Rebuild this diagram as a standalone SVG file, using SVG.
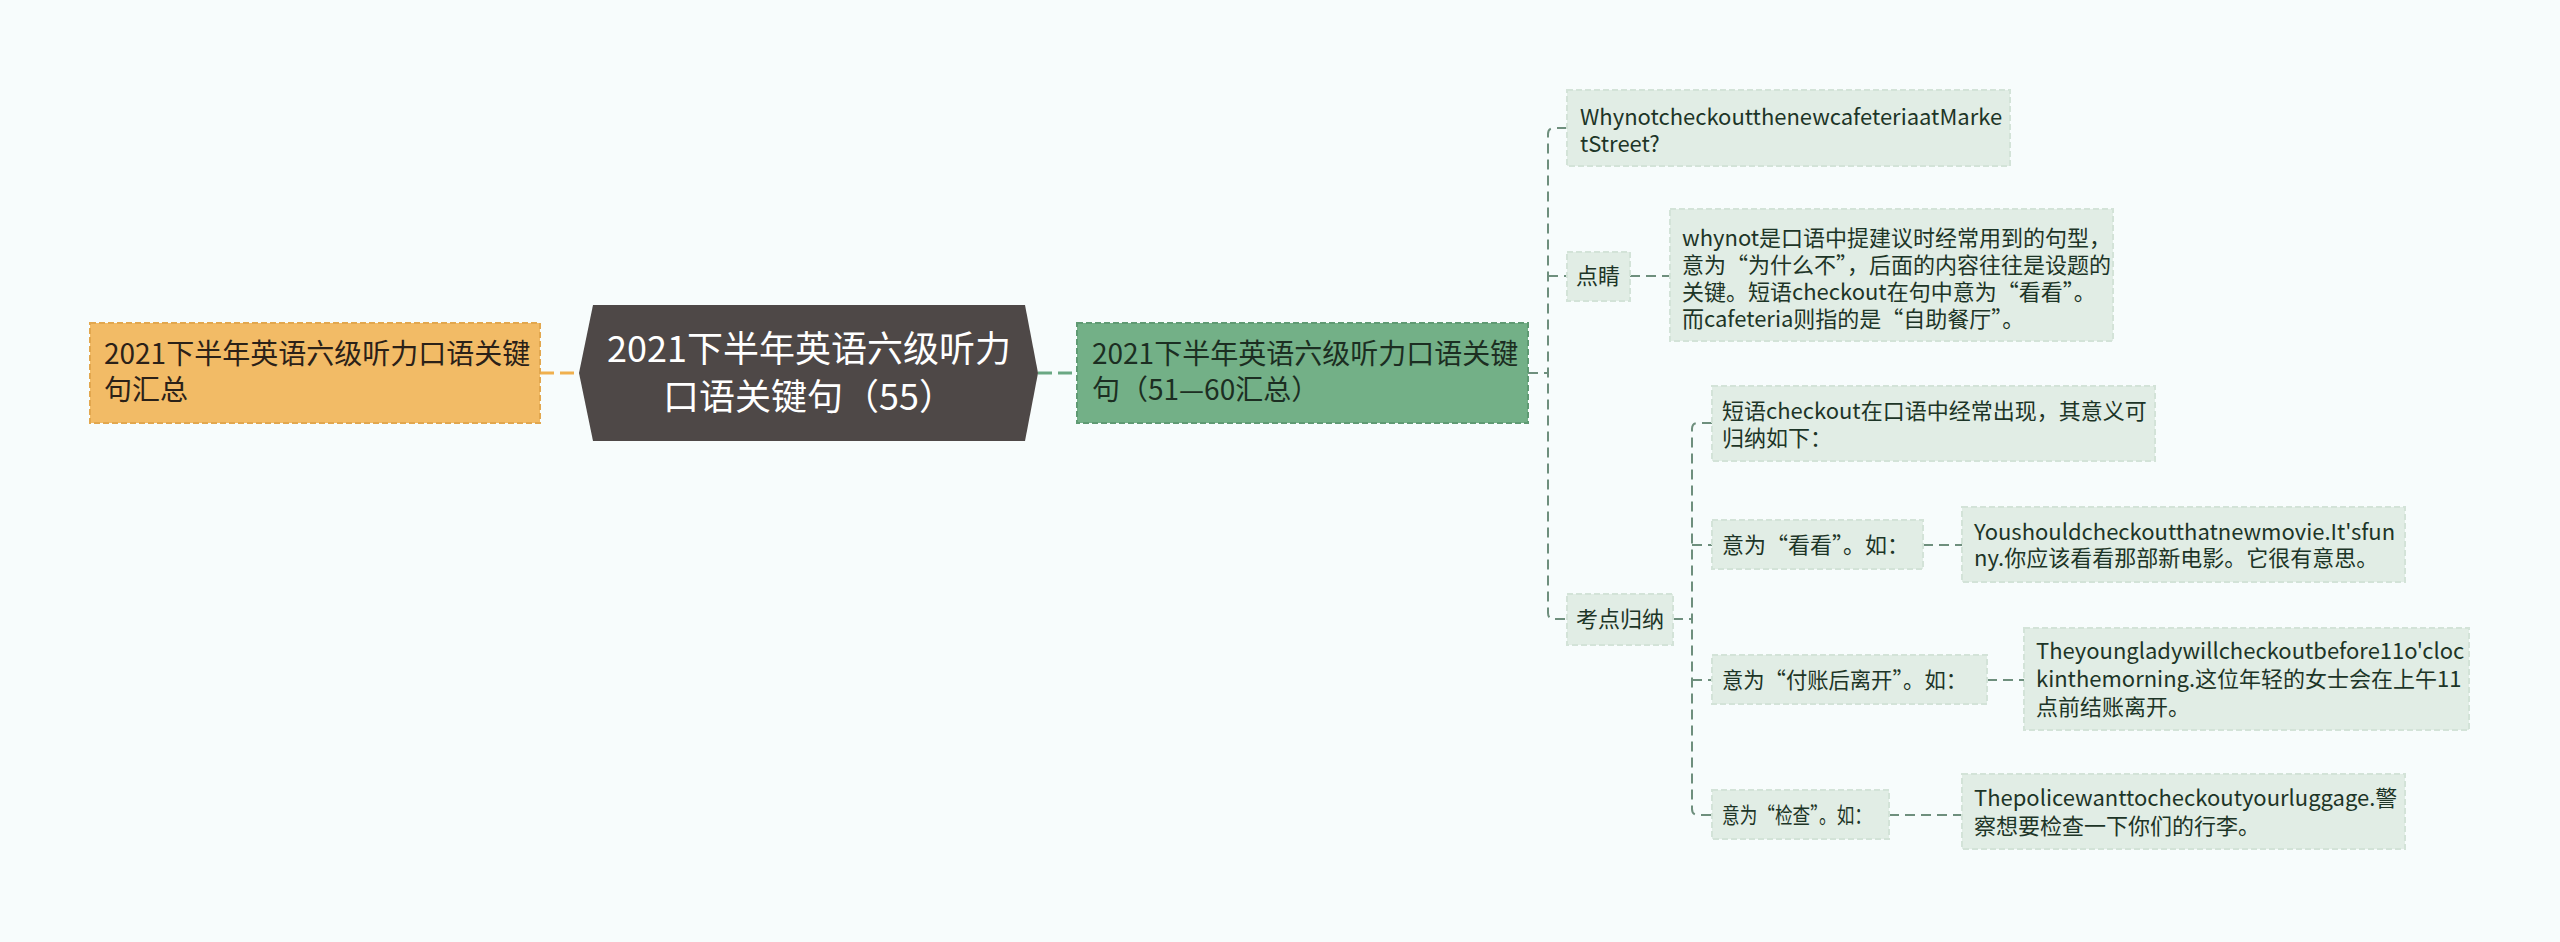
<svg xmlns="http://www.w3.org/2000/svg" width="2560" height="942" viewBox="0 0 2560 942">
<style>
text{font-family:"Noto Sans CJK SC","Noto Sans",sans-serif;}
.lt{fill:#e1ede5;stroke:#d3e3d8;stroke-width:2;stroke-dasharray:6 3;}
.lt-t{font-size:22px;fill:#1d3527;}
.c{fill:none;stroke:#6e8f7d;stroke-width:2;stroke-dasharray:10 6;}
</style>
<rect width="2560" height="942" fill="#f7fcfc"/>
<g id="connectors">
<path d="M540 373 H579" stroke="#f0b04e" stroke-width="3" fill="none" stroke-dasharray="14 6"/>
<path d="M1038 373 H1077" stroke="#6aa883" stroke-width="3" fill="none" stroke-dasharray="14 6"/>
<path class="c" d="M1528 373 H1548"/>
<path class="c" d="M1567 128 H1554 Q1548 128 1548 134 V613 Q1548 619 1554 619 H1567"/>
<path class="c" d="M1548 276 H1567"/>
<path class="c" d="M1630 276 H1670"/>
<path class="c" d="M1673 619 H1692"/>
<path class="c" d="M1712 423 H1698 Q1692 423 1692 429 V809 Q1692 815 1698 815 H1712"/>
<path class="c" d="M1692 545 H1712"/>
<path class="c" d="M1692 680 H1712"/>
<path class="c" d="M1923 545 H1962"/>
<path class="c" d="M1987 680 H2024"/>
<path class="c" d="M1889 815 H1962"/>
</g>
<g id="n-left">
<rect x="90" y="323" width="450" height="100" fill="#f2bb66" stroke="#e2a74e" stroke-width="2" stroke-dasharray="6 3"/>
<text font-size="28" fill="#2b2118"><tspan x="104" y="364">2021下半年英语六级听力口语关键</tspan><tspan x="104" y="400">句汇总</tspan></text>
</g>
<g id="n-root">
<polygon points="593,305 1025,305 1038,373 1025,441 593,441 579,373" fill="#4e4847"/>
<text font-size="36" fill="#ffffff" text-anchor="middle"><tspan x="809" y="362">2021下半年英语六级听力</tspan><tspan x="809" y="410">口语关键句（55）</tspan></text>
</g>
<g id="n-green">
<rect x="1077" y="323" width="451" height="100" fill="#73b087" stroke="#5f9a73" stroke-width="2" stroke-dasharray="6 3"/>
<text font-size="28" fill="#1c2e22"><tspan x="1092" y="364">2021下半年英语六级听力口语关键</tspan><tspan x="1092" y="400">句（51—60汇总）</tspan></text>
</g>
<g id="n-why">
<rect class="lt" x="1567" y="90" width="443" height="76"/>
<text class="lt-t"><tspan x="1580" y="125">WhynotcheckoutthenewcafeteriaatMarke</tspan><tspan x="1580" y="152">tStreet?</tspan></text>
</g>
<g id="n-dianjing">
<rect class="lt" x="1567" y="252" width="63" height="49"/>
<text class="lt-t" x="1598" y="284" text-anchor="middle">点睛</text>
</g>
<g id="n-whynot">
<rect class="lt" x="1670" y="209" width="443" height="132"/>
<text class="lt-t"><tspan x="1682" y="246">whynot是口语中提建议时经常用到的句型，</tspan><tspan x="1682" y="273">意为“为什么不”，后面的内容往往是设题的</tspan><tspan x="1682" y="300">关键。短语checkout在句中意为“看看”。</tspan><tspan x="1682" y="327">而cafeteria则指的是“自助餐厅”。</tspan></text>
</g>
<g id="n-kaodian">
<rect class="lt" x="1567" y="594" width="106" height="51"/>
<text class="lt-t" x="1620" y="627" text-anchor="middle">考点归纳</text>
</g>
<g id="n-duanyu">
<rect class="lt" x="1712" y="386" width="443" height="75"/>
<text class="lt-t"><tspan x="1722" y="419">短语checkout在口语中经常出现，其意义可</tspan><tspan x="1722" y="446">归纳如下：</tspan></text>
</g>
<g id="n-kankan">
<rect class="lt" x="1712" y="520" width="211" height="49"/>
<text class="lt-t" x="1722" y="553">意为“看看”。如：</text>
</g>
<g id="n-you">
<rect class="lt" x="1962" y="507" width="443" height="75"/>
<text class="lt-t"><tspan x="1974" y="540">Youshouldcheckoutthatnewmovie.It'sfun</tspan><tspan x="1974" y="566">ny.你应该看看那部新电影。它很有意思。</tspan></text>
</g>
<g id="n-fuzhang">
<rect class="lt" x="1712" y="655" width="275" height="49"/>
<text class="lt-t" x="1722" y="688" textLength="245" lengthAdjust="spacingAndGlyphs">意为“付账后离开”。如：</text>
</g>
<g id="n-they">
<rect class="lt" x="2024" y="628" width="445" height="102"/>
<text class="lt-t"><tspan x="2036" y="659">Theyoungladywillcheckoutbefore11o'cloc</tspan><tspan x="2036" y="687">kinthemorning.这位年轻的女士会在上午11</tspan><tspan x="2036" y="715">点前结账离开。</tspan></text>
</g>
<g id="n-jiancha">
<rect class="lt" x="1712" y="790" width="177" height="49"/>
<text class="lt-t" x="1722" y="823" textLength="150" lengthAdjust="spacingAndGlyphs">意为“检查”。如：</text>
</g>
<g id="n-police">
<rect class="lt" x="1962" y="774" width="443" height="75"/>
<text class="lt-t"><tspan x="1974" y="806">Thepolicewanttocheckoutyourluggage.警</tspan><tspan x="1974" y="834">察想要检查一下你们的行李。</tspan></text>
</g>
</svg>
